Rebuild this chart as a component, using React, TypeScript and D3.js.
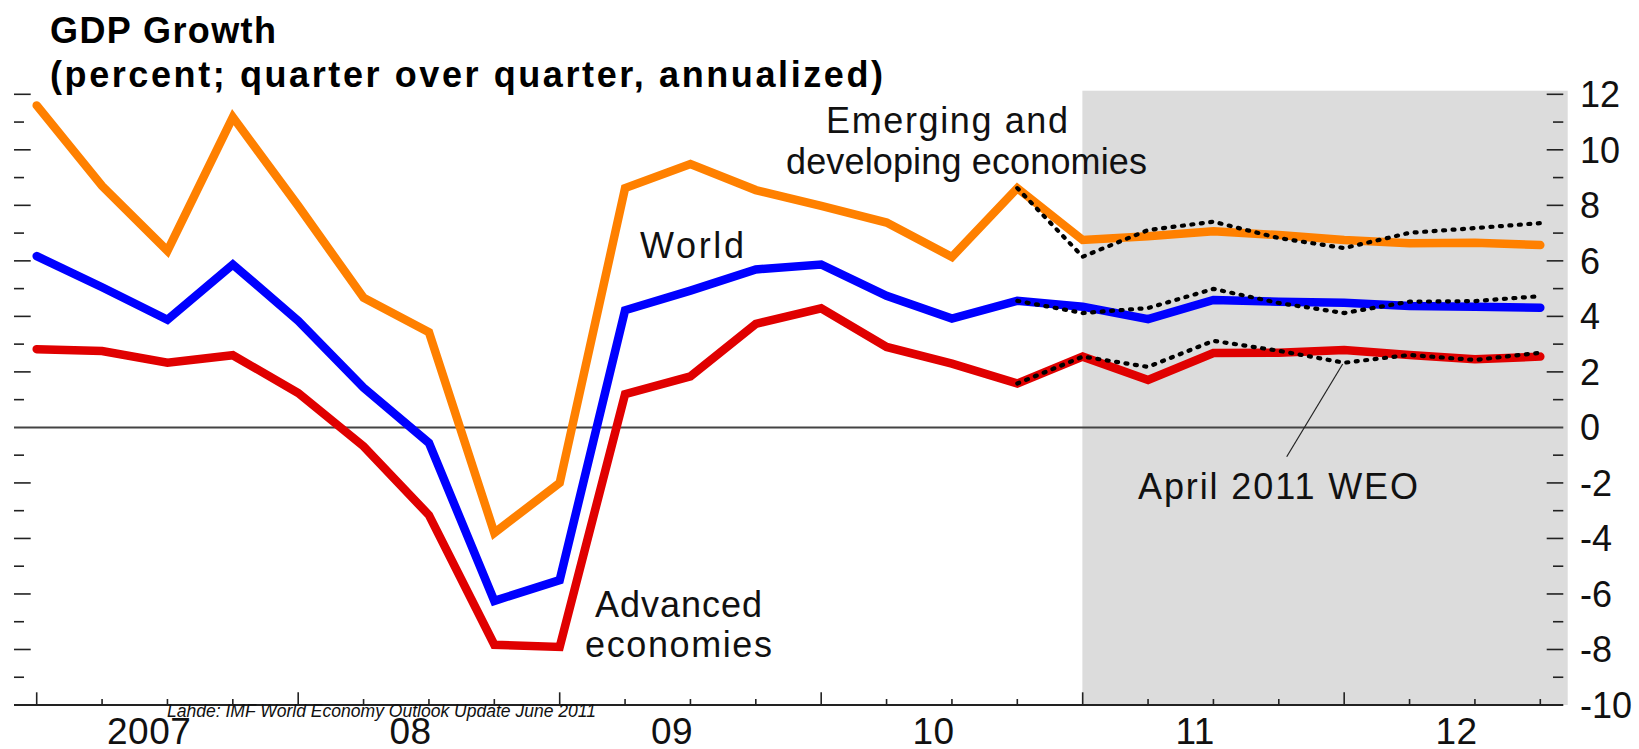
import React from "react";
import * as d3 from "d3";

const quarters = [
  "2007Q1","2007Q2","2007Q3","2007Q4","2008Q1","2008Q2","2008Q3","2008Q4",
  "2009Q1","2009Q2","2009Q3","2009Q4","2010Q1","2010Q2","2010Q3","2010Q4",
  "2011Q1","2011Q2","2011Q3","2011Q4","2012Q1","2012Q2","2012Q3","2012Q4",
];
const yearLabels = ["2007", "08", "09", "10", "11", "12"];
const yTicks = [12, 10, 8, 6, 4, 2, 0, -2, -4, -6, -8, -10];

const emerging = [11.6, 8.7, 6.36, 11.18, 7.98, 4.67, 3.43, -3.8, -2.0, 8.62, 9.49, 8.55, 7.98, 7.38, 6.14, 8.62, 6.75, 6.89, 7.07, 6.93, 6.75, 6.63, 6.65, 6.57];
const world = [6.17, 5.05, 3.88, 5.87, 3.84, 1.43, -0.56, -6.25, -5.5, 4.22, 4.93, 5.69, 5.87, 4.74, 3.92, 4.56, 4.35, 3.9, 4.59, 4.53, 4.49, 4.37, 4.35, 4.31];
const advanced = [2.82, 2.75, 2.33, 2.6, 1.24, -0.68, -3.16, -7.83, -7.91, 1.2, 1.84, 3.73, 4.29, 2.9, 2.3, 1.58, 2.55, 1.71, 2.68, 2.69, 2.79, 2.61, 2.46, 2.55];

// April 2011 WEO projections, starting at 2010Q4 (index 15)
const aprilStart = 15;
const emergingApril = [8.62, 6.15, 7.11, 7.41, 6.82, 6.46, 7.01, 7.18, 7.36];
const worldApril = [4.56, 4.12, 4.3, 4.99, 4.48, 4.12, 4.53, 4.55, 4.73];
const advancedApril = [1.58, 2.55, 2.18, 3.12, 2.76, 2.33, 2.61, 2.43, 2.69];

const forecastStart = 16; // 2011Q1

const W = 1639;
const H = 749;
const FONT = "'Liberation Sans', Arial, sans-serif";

export default function App() {
  const x = d3.scaleLinear().domain([0, quarters.length - 1]).range([36.7, 1540.3]);
  const y = d3.scaleLinear().domain([-10, 12]).range([705, 94.3]);

  const line = d3
    .line<number>()
    .x((_, i) => x(i))
    .y((d) => y(d));
  const lineApr = d3
    .line<number>()
    .x((_, i) => x(i + aprilStart))
    .y((d) => y(d));

  const minorY = d3.range(-9, 12, 2);
  const majorY = yTicks.filter((v) => v !== 0 && v !== -10);

  const axisLeft = 14;
  const axisRight = 1563.3;

  return (
    <svg
      width={W}
      height={H}
      style={{ position: "absolute", left: 0, top: 0, background: "#fff" }}
      fontFamily={FONT}
    >
      {/* forecast shading */}
      <rect
        x={x(forecastStart) - 0.3}
        y={90.7}
        width={1567.7 - x(forecastStart) + 0.3}
        height={y(-10) - 90.7}
        fill="#dcdcdc"
      />

      {/* left ticks */}
      {majorY.map((v) => (
        <line key={"lm" + v} x1={axisLeft} x2={30.7} y1={y(v)} y2={y(v)} stroke="#222" strokeWidth={1.6} />
      ))}
      {minorY.map((v) => (
        <line key={"ln" + v} x1={axisLeft} x2={24} y1={y(v)} y2={y(v)} stroke="#222" strokeWidth={1.6} />
      ))}
      {/* right ticks */}
      {majorY.map((v) => (
        <line key={"rm" + v} x1={1546.7} x2={axisRight} y1={y(v)} y2={y(v)} stroke="#222" strokeWidth={1.6} />
      ))}
      {minorY.map((v) => (
        <line key={"rn" + v} x1={1553} x2={axisRight} y1={y(v)} y2={y(v)} stroke="#222" strokeWidth={1.6} />
      ))}

      {/* zero line */}
      <line x1={axisLeft} x2={axisRight} y1={y(0)} y2={y(0)} stroke="#444" strokeWidth={2} />

      {/* x axis */}
      <line x1={axisLeft} x2={axisRight} y1={y(-10)} y2={y(-10)} stroke="#222" strokeWidth={2} />
      {quarters.map((q, i) => (
        <line
          key={q}
          x1={x(i)}
          x2={x(i)}
          y1={y(-10)}
          y2={i % 4 === 0 ? 692.3 : 699}
          stroke="#222"
          strokeWidth={1.6}
        />
      ))}

      {/* right tick labels */}
      {yTicks.map((v) => (
        <text key={"t" + v} x={1580} y={y(v) + 13} fontSize={36} fill="#111">
          {v}
        </text>
      ))}

      {/* year labels */}
      {yearLabels.map((lab, k) => (
        <text
          key={lab}
          x={x(1.72 + 4 * k)}
          y={744}
          fontSize={37}
          textAnchor="middle"
          letterSpacing={0.5}
          fill="#111"
        >
          {lab}
        </text>
      ))}

      {/* series */}
      <path d={line(emerging) || ""} fill="none" stroke="#ff8000" strokeWidth={8.5} strokeLinecap="round" strokeLinejoin="miter" />
      <path d={line(world) || ""} fill="none" stroke="#0000ff" strokeWidth={8.5} strokeLinecap="round" strokeLinejoin="miter" />
      <path d={line(advanced) || ""} fill="none" stroke="#e00000" strokeWidth={8.5} strokeLinecap="round" strokeLinejoin="miter" />

      {/* April 2011 WEO dotted */}
      {[emergingApril, worldApril, advancedApril].map((s, k) => (
        <path
          key={"apr" + k}
          d={lineApr(s) || ""}
          fill="none"
          stroke="#000"
          strokeWidth={4.2}
          strokeDasharray="2 7.5"
          strokeLinecap="round"
        />
      ))}

      {/* leader line */}
      <line x1={1286.7} y1={456.7} x2={1342.7} y2={364} stroke="#222" strokeWidth={1.2} />

      {/* annotations */}
      <text x={826} y={133} fontSize={36} textLength={242} lengthAdjust="spacing" fill="#111">Emerging and</text>
      <text x={786} y={174} fontSize={36} textLength={361} lengthAdjust="spacing" fill="#111">developing economies</text>
      <text x={640} y={258} fontSize={36} textLength={104} lengthAdjust="spacing" fill="#111">World</text>
      <text x={595} y={617} fontSize={36} textLength={167} lengthAdjust="spacing" fill="#111">Advanced</text>
      <text x={585} y={657} fontSize={36} textLength={187} lengthAdjust="spacing" fill="#111">economies</text>
      <text x={1138} y={499} fontSize={36} textLength={280} lengthAdjust="spacing" fill="#111">April 2011 WEO</text>

      {/* title */}
      <text x={50} y={43} fontSize={36} fontWeight="bold" textLength={226} lengthAdjust="spacing" fill="#000">GDP Growth</text>
      <text x={50} y={87} fontSize={36} fontWeight="bold" textLength={833} lengthAdjust="spacing" fill="#000">
        (percent; quarter over quarter, annualized)
      </text>

      {/* source */}
      <text x={167} y={717} fontSize={18} fontStyle="italic" textLength={429} lengthAdjust="spacingAndGlyphs" fill="#111">
        Lähde: IMF World Economy Outlook Update June 2011
      </text>
    </svg>
  );
}
